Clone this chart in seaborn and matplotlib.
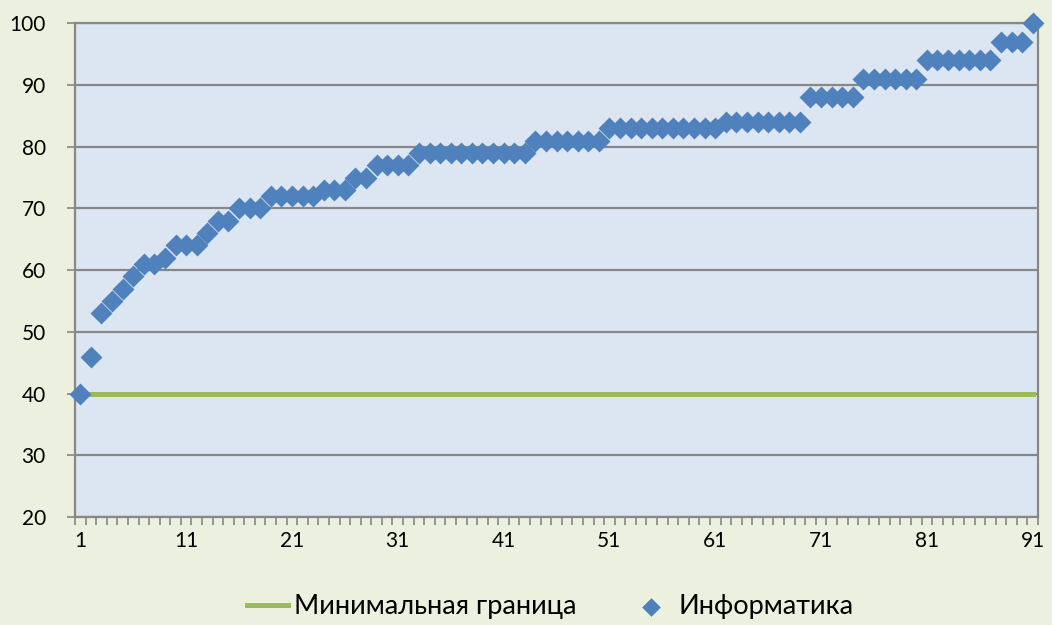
import numpy as np
import pandas as pd
import matplotlib.pyplot as plt
import seaborn as sns

#------------DATA----------

scores = [40, 46, 53, 55, 57, 59, 61, 61, 62, 64,
          64, 64, 66, 68, 68, 70, 70, 70, 72, 72,
          72, 72, 72, 73, 73, 73, 75, 75, 77, 77,
          77, 77, 79, 79, 79, 79, 79, 79, 79, 79,
          79, 79, 79, 81, 81, 81, 81, 81, 81, 81,
          83, 83, 83, 83, 83, 83, 83, 83, 83, 83,
          83, 84, 84, 84, 84, 84, 84, 84, 84, 88,
          88, 88, 88, 88, 91, 91, 91, 91, 91, 91,
          94, 94, 94, 94, 94, 94, 94, 97, 97, 97,
          100]
min_score = 40
min_border = [min_score] * len(scores)
students = list(range(1, len(scores) + 1))
x_labels = students[::10]
y_ticks = [20, 30, 40, 50, 60, 70, 80, 90, 100]

df = pd.DataFrame({'Номер': students, 'Информатика': scores, 'Минимум': min_border})

#------------STYLE----------

plt.rcParams['font.family'] = ['Lato', 'DejaVu Sans']
grid_col = '#878787'

fig = plt.figure(figsize=(10.52, 6.25), dpi=100, facecolor='#EBF1DE')
ax = fig.add_axes([0.0713, 0.1728, 0.9154, 0.7899])
ax.set_facecolor('#DCE6F2')

#------------PLOT----------

sns.lineplot(data=df, x='Номер', y='Минимум', color='#9BBB59', linewidth=3.6,
             label='Минимальная граница', ax=ax, zorder=2)
sns.scatterplot(data=df, x='Номер', y='Информатика', marker='D', s=125,
                color='#4F81BD', linewidth=0, label='Информатика', ax=ax,
                zorder=3, clip_on=False)

#------------AXES----------

ax.set_xlim(0.5, len(scores) + 0.5)
ax.set_ylim(20, 100)
ax.set_yticks(y_ticks)
ax.set_xticks(x_labels)
ax.set_xticks(np.arange(0.5, len(scores) + 1, 1), minor=True)
ax.tick_params(axis='x', which='major', length=0, pad=10, labelsize=15)
ax.tick_params(axis='x', which='minor', length=6, width=1.2, color=grid_col)
ax.tick_params(axis='y', length=6, width=1.2, color=grid_col, labelsize=15, pad=15)
ax.grid(axis='y', color=grid_col, linewidth=1.6, zorder=0)
ax.set_axisbelow(True)
for s in ax.spines.values():
    s.set_color(grid_col)
    s.set_linewidth(1.6)
ax.set_xlabel('')
ax.set_ylabel('')

leg = ax.legend(loc='lower center', bbox_to_anchor=(0.523, -0.008), bbox_transform=fig.transFigure,
                ncol=2, frameon=False, fontsize=19.5, handlelength=1.5,
                handletextpad=0.25, columnspacing=2.0, borderaxespad=0.0,
                markerscale=0.85)

plt.savefig('out.png', dpi=100, facecolor=fig.get_facecolor())
plt.close()
